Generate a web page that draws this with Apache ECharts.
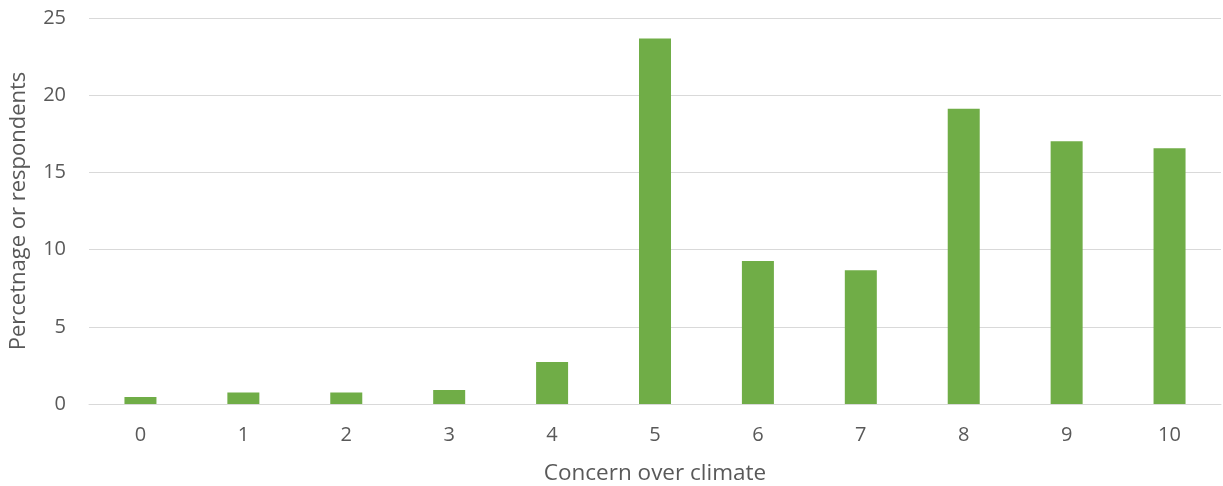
<!DOCTYPE html>
<html>
<head>
<meta charset="utf-8">
<script src="https://cdn.jsdelivr.net/npm/echarts@6/dist/echarts.min.js"></script>
<style>
  html, body { margin: 0; padding: 0; background: #ffffff; }
  #chart { width: 1223px; height: 486px; }
</style>
</head>
<body>
<div id="chart"></div>
<script>
// Concern level (0–10) and share of respondents at each level
const categories = ['0', '1', '2', '3', '4', '5', '6', '7', '8', '9', '10'];
const shares = [0.45, 0.75, 0.75, 0.9, 2.72, 23.68, 9.26, 8.66, 19.13, 17.01, 16.56];
const yTicks = [0, 5, 10, 15, 20, 25];

const textColor = '#595959';
const fontFamily = '"Open Sans", sans-serif';

const chart = echarts.init(document.getElementById('chart'), null, { renderer: 'canvas' });
chart.setOption({
  animation: false,
  backgroundColor: '#ffffff',
  grid: { left: 89, right: 2, top: 18, bottom: 82, containLabel: false, outerBoundsMode: 'none' },
  xAxis: {
    type: 'category',
    data: categories,
    name: 'Concern over climate',
    nameLocation: 'middle',
    nameGap: 58,
    nameTextStyle: { color: textColor, fontSize: 22.5, fontFamily },
    axisLine: { show: true, lineStyle: { color: '#d9d9d9', width: 1 } },
    axisTick: { show: false },
    axisLabel: { color: textColor, fontSize: 20, fontFamily, margin: 21 }
  },
  yAxis: {
    type: 'value',
    min: yTicks[0],
    max: yTicks[yTicks.length - 1],
    interval: 5,
    name: 'Percetnage or respondents',
    nameLocation: 'middle',
    nameGap: 59,
    nameTextStyle: { color: textColor, fontSize: 22, fontFamily },
    axisLine: { show: false },
    axisTick: { show: false },
    axisLabel: { color: textColor, fontSize: 20, fontFamily, margin: 23 },
    splitLine: { lineStyle: { color: '#d9d9d9', width: 1 } }
  },
  series: [{
    type: 'bar',
    data: shares,
    barWidth: 32,
    itemStyle: { color: '#70ad47' }
  }]
});
</script>
</body>
</html>
